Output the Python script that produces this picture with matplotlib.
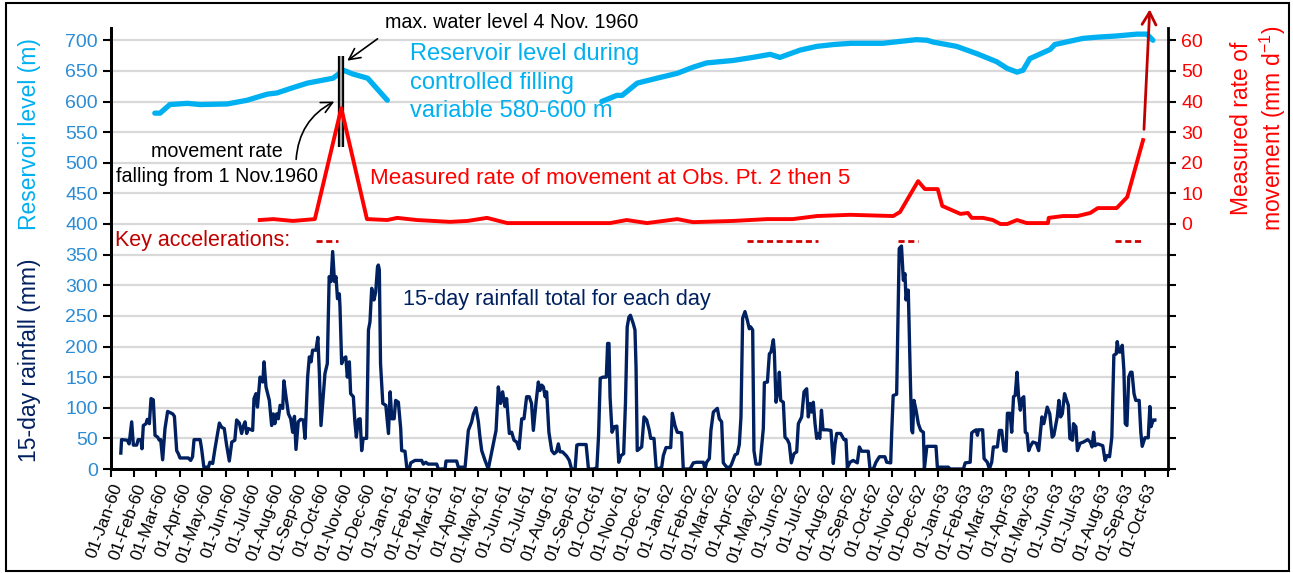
import numpy as np
import pandas as pd
import matplotlib
matplotlib.use("Agg")
import matplotlib.pyplot as plt
from matplotlib.patches import Rectangle
from matplotlib import font_manager

# days counted from 1 Jan 1960
level_day_a = [58, 65, 78, 101, 118, 154, 180, 207, 220, 237, 260, 294, 308, 320, 340, 366]
level_m_a = [581, 581, 595, 597, 595, 596, 602, 612, 614, 621, 630, 638, 651, 645, 638, 602]

level_day_b = [650, 670, 677, 697, 723, 750, 771, 789, 824, 850, 873, 886, 913, 935, 957, 980,
               1022, 1067, 1081, 1089, 1120, 1147, 1173, 1187, 1200, 1208, 1217, 1244, 1250,
               1287, 1306, 1332, 1359, 1372, 1380]
level_m_b = [600, 610, 610, 630, 638, 646, 656, 663, 667, 672, 677, 672, 684, 690, 693, 695,
             695, 701, 700, 697, 690, 678, 665, 654, 648, 651, 670, 685, 693, 703, 705, 707,
             710, 710, 700]

rate_day = [197, 215, 241, 270, 305, 339, 366, 379, 405, 449, 472, 498, 525, 582, 661, 683,
            710, 750, 771, 824, 869, 903, 935, 979, 1036, 1045, 1069, 1078, 1095, 1101, 1125,
            1135, 1140, 1155, 1168, 1178, 1187, 1200, 1213, 1241, 1242, 1261, 1280, 1297, 1307,
            1332, 1346, 1367]
rate_mm = [1.3, 1.6, 1.0, 1.6, 37.8, 1.6, 1.3, 2.0, 1.3, 0.7, 1.0, 2.0, 0.3, 0.3, 0.3, 1.3,
           0.3, 1.6, 0.6, 1.0, 1.6, 1.6, 2.6, 3.0, 2.6, 3.9, 14.0, 11.4, 11.4, 5.9, 3.3,
           3.6, 2.0, 2.0, 1.3, 0.0, 0.0, 1.3, 0.3, 0.3, 2.0, 2.6, 2.6, 3.6, 5.2,
           5.2, 8.8, 27.4]

rain_day = [13, 14, 21.6, 24, 27.4, 29.6, 34, 36, 39.7, 41, 42.8, 46.4, 48, 50.8, 53, 56, 58.3,
            61.8, 64, 65.8, 68.4, 71.5, 75, 81.7, 84, 87, 89.2, 91.4, 102.4, 105.5, 108, 110,
            118, 120, 123, 129, 131, 134.7, 137.7, 140, 143.5, 146.6, 150, 153, 156.7, 160,
            164, 166.4, 170, 173, 175, 177.5, 179.7, 182, 187.6, 189.4, 192, 194, 197.4, 201,
            202.7, 205.3, 209.7, 212.8, 215, 217, 219.4, 221.6, 224, 227.4, 229, 231.8, 235,
            238, 240.6, 243, 245, 248, 251, 254.7, 257, 260.5, 262.7, 265, 267, 271.5, 274,
            276, 278.1, 280.4, 283.4, 286.5, 289, 291.4, 293.6, 296, 298, 300, 302.4, 303.3,
            305.5, 307.7, 311, 313, 315.7, 317.4, 321, 323, 325, 327.6, 330, 332, 334, 338.6,
            341, 343, 345.3, 348.3, 350.6, 353, 354.1, 355.4, 357, 360, 364, 367.5, 369.7, 372,
            375, 377, 380.6, 383.7, 385, 389.4, 391.7, 395, 397, 402.6, 411.5, 413.7, 417, 420,
            431.4, 433.6, 442.5, 443.7, 457.8, 460, 469, 473.3, 477.7, 480, 483.4, 486.6,
            488.7, 491, 495.4, 499.7, 505.5, 510, 513, 516, 518.7, 521.8, 524, 527.6, 530.7,
            533.8, 537.3, 540.4, 544, 547, 550.5, 554, 557, 559.4, 563, 566, 568, 570.5, 572.7,
            575, 577, 580, 583.7, 587, 590, 592.5, 594.7, 598, 603.5, 607, 610, 614.7, 617,
            619, 629.3, 632.4, 639, 643.5, 645.8, 648, 651.6, 656, 657.8, 659.6, 661, 663.6,
            666.8, 670, 672.5, 675.6, 679, 681.4, 683.7, 686, 688, 691.8, 694, 695.4, 697,
            702.9, 706, 709.5, 713, 714.8, 719.2, 722, 725, 729.4, 731.6, 735.1, 741.3, 743.5,
            747, 750, 755.8, 758, 766.9, 771.3, 775.7, 784.5, 786.7, 788.9, 792.5, 794.6,
            797.8, 803.1, 805.7, 808.8, 811, 815.5, 819.9, 822, 826.5, 829.6, 832.2, 834.4,
            836.6, 839.7, 842.8, 845.4, 847.2, 849.9, 851.6, 854.3, 859.6, 864, 865.4, 869.4,
            872, 874.2, 877.3, 878.6, 880.8, 883.9, 885.2, 887, 890.5, 892.7, 895.8, 898.4,
            901.1, 904.6, 908.2, 910.4, 914.8, 917.9, 921.4, 923.6, 925.8, 928, 930.2, 932.5,
            934.7, 937, 938.8, 941, 943.1, 947.9, 953.6, 956.7, 959, 961.2, 966.4, 970.9,
            973.5, 975.3, 978.8, 983, 988.5, 991.2, 994.3, 1003, 1005.3, 1009.7, 1013.2,
            1017.7, 1025, 1027.4, 1032.7, 1034, 1036, 1040.6, 1044, 1047, 1049.5, 1051.6, 1053,
            1055, 1056, 1059, 1060.5, 1061.8, 1063.5, 1066.3, 1069.3, 1072.5, 1076, 1077.3,
            1080.6, 1092.7, 1094.5, 1109, 1111.5, 1129, 1131.4, 1138, 1140, 1143, 1146, 1147.6,
            1149, 1154.5, 1156.4, 1160.7, 1163.4, 1166.5, 1168.7, 1174, 1176.6, 1179.7, 1182.8,
            1185.5, 1187.3, 1190.8, 1193, 1195.4, 1197.6, 1200, 1202, 1204.4, 1206.6, 1209,
            1211, 1213.3, 1215.5, 1217.7, 1221, 1225.6, 1228.7, 1233, 1235.5, 1237.6, 1240,
            1243.4, 1246.6, 1248.8, 1253.3, 1255.5, 1257.7, 1260, 1263, 1265.8, 1268, 1270,
            1273.5, 1274.8, 1278, 1280, 1283.6, 1288, 1293.6, 1297, 1299.4, 1301.5, 1303.4,
            1307, 1313.6, 1316.7, 1319.4, 1322.6, 1325.6, 1328.3, 1331.4, 1332.7, 1335, 1337,
            1339.4, 1341.6, 1343.4, 1345.6, 1348, 1350.5, 1352.3, 1355, 1357.3, 1361.8, 1364,
            1365.8, 1369.4, 1373.8, 1376, 1377.4, 1380.4, 1382.6]
rain_mm = [26, 48, 47, 41, 77, 39, 39, 48, 48, 33, 71, 74, 81, 74, 115, 113, 55,
           52, 47, 48, 15, 66, 94, 90, 86, 30, 25, 18, 18, 14, 20, 48,
           48, 33, 3, 3, 11, 9, 33, 50, 75, 68, 66, 40, 13, 44,
           47, 80, 75, 58, 69, 77, 58, 66, 63, 115, 123, 101, 150, 142,
           175, 134, 112, 71, 90, 74, 90, 82, 104, 99, 144, 118, 90,
           82, 60, 86, 32, 77, 81, 80, 50, 151, 183, 175, 194, 194, 215,
           156, 71, 107, 156, 172, 314, 306, 355, 306, 314, 278, 286, 265,
           172, 180, 183, 150, 175, 123, 118, 77, 52, 81, 82, 30, 50, 50,
           227, 240, 295, 276, 289, 330, 333, 325, 172, 107, 104, 58, 126, 82,
           82, 112, 109, 66, 30, 29, 3, 0, 10, 14, 14, 8, 11, 8,
           8, 0, 0, 13, 13, 3, 3, 63, 77, 90, 100, 77,
           52, 30, 14, 0, 36, 63, 134, 107, 126, 102, 115, 58, 60,
           47, 44, 33, 82, 82, 118, 118, 107, 63, 109, 142, 128, 137, 134,
           118, 126, 60, 30, 25, 28, 41, 28, 28, 21, 14, 0, 0, 39,
           40, 40, 0, 0, 2, 55, 148, 150, 150, 205, 205, 118, 60,
           69, 70, 11, 22, 25, 107, 232, 248, 251, 237, 227, 167, 30,
           36, 85, 80, 63, 50, 50, 3, 0, 3, 22, 35, 35, 91,
           71, 60, 59, 0, 0, 10, 11, 11, 0, 11, 17, 63,
           93, 99, 82, 77, 10, 3, 3, 8, 23, 25, 40, 85,
           246, 257, 243, 229, 232, 227, 30, 8, 8, 66, 141, 142,
           188, 191, 211, 191, 109, 131, 158, 112, 109, 52, 48, 41,
           10, 25, 28, 74, 85, 126, 131, 85, 107, 93, 109, 74,
           50, 58, 50, 96, 64, 64, 63, 9, 41, 58, 58, 48,
           48, 2, 11, 14, 10, 36, 29, 29, 0, 0, 11,
           20, 20, 11, 10, 58, 120, 122, 360, 364, 308, 319, 276,
           292, 292, 134, 63, 59, 112, 96, 74, 63, 60, 0,
           37, 37, 3, 3, 0, 0, 10, 11, 59, 62, 64, 55,
           64, 64, 17, 11, 0, 11, 36, 36, 63, 63, 30,
           29, 91, 91, 60, 118, 120, 158, 120, 96, 115, 118,
           60, 58, 30, 37, 44, 42, 30, 85, 74, 86, 101,
           90, 52, 55, 85, 112, 85, 90, 123, 112, 104, 50,
           47, 74, 69, 30, 42, 44, 48, 44, 36, 60, 38,
           41, 38, 14, 22, 20, 52, 186, 188, 208, 191, 191,
           202, 161, 74, 71, 150, 158, 158, 123, 112, 112, 60,
           37, 51, 51, 102, 69, 80, 80]

accel_start = [272, 842, 1042, 1330]
accel_end = [301, 936, 1069, 1366]

LIGHT_BLUE = '#00B0F0'
TICK_BLUE = '#2B8CD4'
NAVY = '#002060'
RED = '#FF0000'
DARK_RED = '#C00000'

names = {f.name for f in font_manager.fontManager.ttflist}
NARROW = 'Liberation Sans Narrow' if 'Liberation Sans Narrow' in names else 'Liberation Sans'
plt.rcParams['font.family'] = [NARROW, 'DejaVu Sans']
plt.rcParams['mathtext.fontset'] = 'custom'
plt.rcParams['mathtext.rm'] = NARROW

base = pd.Timestamp('1960-01-01')


def to_dates(days):
    return base + pd.to_timedelta(np.asarray(days, dtype=float), unit='D')


fig = plt.figure(figsize=(12.93, 5.73), dpi=100)
ax = fig.add_axes([111 / 1293, 1 - 469 / 573, (1168 - 111) / 1293, (469 - 28) / 573])
ax2 = ax.twinx()

ax.set_ylim(0, 720)
ax2.set_ylim(-80, 64)
ax.set_xlim(base, pd.Timestamp('1963-11-01'))

ax.set_yticks(np.arange(0, 701, 50))
ax.yaxis.grid(True, color='#D9D9D9', lw=1.6)
ax.set_axisbelow(True)
ax.tick_params(axis='y', colors='black', labelcolor=TICK_BLUE, labelsize=14, length=6, width=1.5,
               direction='out')
ax2.set_yticks(np.arange(-80, 61, 10))
ax2.set_yticklabels([str(v) if v >= 0 else '' for v in range(-80, 61, 10)])
ax2.tick_params(axis='y', colors='black', labelcolor=RED, labelsize=14, length=6, width=1.5,
                direction='out')

months = pd.date_range('1960-01-01', '1963-11-01', freq='MS')
ax.set_xticks(months)
ax.set_xticklabels([m.strftime('%d-%b-%y') for m in months[:-1]] + [''],
                   rotation=70, ha='right', va='top', rotation_mode='anchor',
                   fontsize=12.5, family='Liberation Sans')
ax.tick_params(axis='x', length=6, width=1.5, direction='out', pad=3)

for a in (ax, ax2):
    a.spines['top'].set_visible(False)
    for s in ('left', 'right', 'bottom'):
        a.spines[s].set_linewidth(2)
ax.spines['right'].set_visible(False)

# rainfall and reservoir
ax.plot(to_dates(rain_day), rain_mm, color=NAVY, lw=2.4, zorder=3)
ax.plot(to_dates(level_day_a), level_m_a, color=LIGHT_BLUE, lw=3.8, solid_capstyle='round', zorder=4)
ax.plot(to_dates(level_day_b), level_m_b, color=LIGHT_BLUE, lw=3.8, solid_capstyle='round', zorder=4)

# movement rate
ax2.plot(to_dates(rate_day), rate_mm, color=RED, lw=2.8, zorder=4)
ax2.annotate('', xy=(to_dates([1376])[0], 71), xytext=(to_dates([1368])[0], 30),
             arrowprops=dict(arrowstyle='->,head_length=0.9,head_width=0.5', color=DARK_RED, lw=2),
             annotation_clip=False)

# double vertical marker at 1 Nov 1960
xm = to_dates([305])[0]
ax.plot([xm, xm], [525, 675], color='black', lw=4.5, zorder=5, solid_capstyle='butt')
ax.plot([xm, xm], [525, 675], color='#A6A6A6', lw=1.6, zorder=6, solid_capstyle='butt')

# key accelerations
for s, e in zip(accel_start, accel_end):
    ax.plot(to_dates([s, e]), [373, 373], color='#D00000', lw=2, dashes=(2.2, 1.3), zorder=3)
ax.text(to_dates([5])[0], 373, 'Key accelerations:', color=DARK_RED, fontsize=15.5, va='center',
        ha='left')

# annotations
ax.text(to_dates([363])[0], 729, 'max. water level 4 Nov. 1960', fontsize=14.2, va='center',
        ha='left', clip_on=False)
ax.annotate('', xy=(to_dates([310])[0], 664), xytext=(to_dates([356])[0], 705),
            arrowprops=dict(arrowstyle='->,head_length=0.8,head_width=0.4', color='black', lw=1.2),
            annotation_clip=False)
ax.text(to_dates([140])[0], 498, 'movement rate\nfalling from 1 Nov.1960', fontsize=14.2,
        va='center', ha='center', multialignment='center', linespacing=1.35)
ax.annotate('', xy=(to_dates([299])[0], 602), xytext=(to_dates([245])[0], 501),
            arrowprops=dict(arrowstyle='->,head_length=0.8,head_width=0.4', color='black', lw=1.2,
                            connectionstyle='arc3,rad=-0.3'))
ax.text(to_dates([396])[0], 631, 'Reservoir level during\ncontrolled filling\nvariable 580-600 m',
        color=LIGHT_BLUE, fontsize=17, va='center', ha='left', linespacing=1.4)
ax.text(to_dates([343])[0], 475, 'Measured rate of movement at Obs. Pt. 2 then 5', color=RED,
        fontsize=16.1, va='center', ha='left')
ax.text(to_dates([387])[0], 277, '15-day rainfall total for each day', color=NAVY,
        fontsize=15.6, va='center', ha='left')

# axis titles
fig.text(30 / 1293, 1 - 134 / 573, 'Reservoir level (m)', color=LIGHT_BLUE, fontsize=16.5,
         rotation=90, ha='center', va='center')
fig.text(30 / 1293, 1 - 360 / 573, '15-day rainfall (mm)', color=NAVY, fontsize=16.5,
         rotation=90, ha='center', va='center')
fig.text(1259 / 1293, 1 - 128 / 573, 'Measured rate of\nmovement (mm d$^{-1}$)', color=RED,
         fontsize=16.5, rotation=90, ha='center', va='center', multialignment='center',
         linespacing=1.2)

fig.patches.append(Rectangle((6 / 1293, 2 / 573), 1283 / 1293, 568 / 573, transform=fig.transFigure,
                             fill=False, edgecolor='black', lw=1.5))

fig.savefig('out.png', dpi=100)
